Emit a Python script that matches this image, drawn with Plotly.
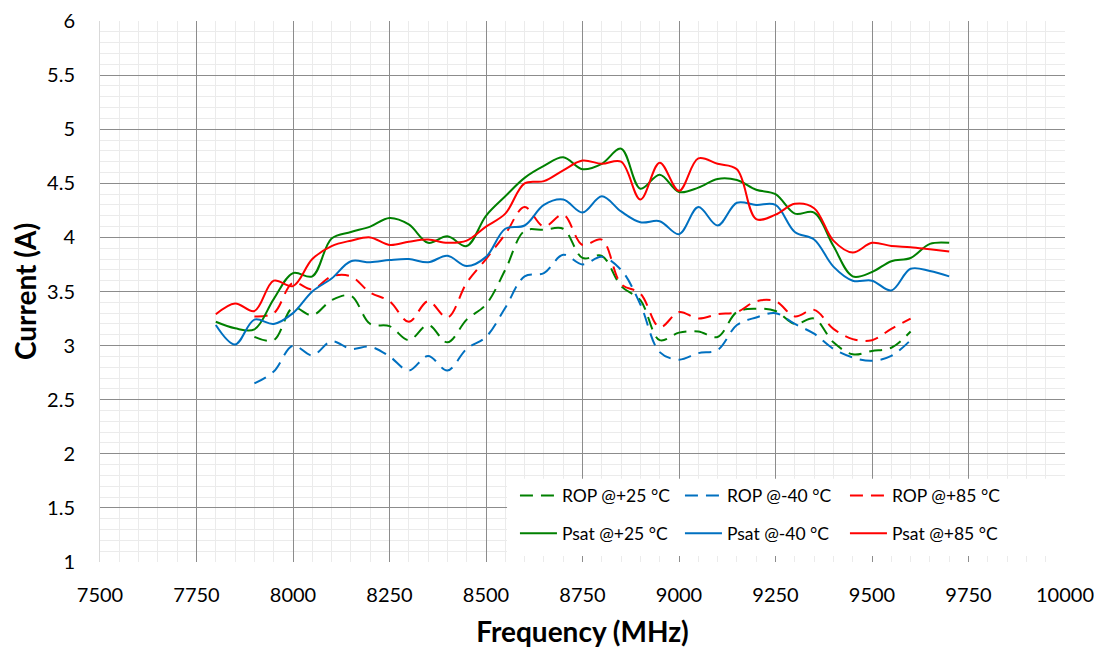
import plotly.graph_objects as go

# Frequencies (MHz)
freq_psat = [7800, 7850, 7900, 7950, 8000, 8050, 8100, 8150, 8200, 8250, 8300, 8350, 8400, 8450,
             8500, 8550, 8600, 8650, 8700, 8750, 8800, 8850, 8900, 8950, 9000, 9050, 9100, 9150,
             9200, 9250, 9300, 9350, 9400, 9450, 9500, 9550, 9600, 9650, 9700]
freq_rop = [7900, 7950, 8000, 8050, 8100, 8150, 8200, 8250, 8300, 8350, 8400, 8450, 8500, 8550,
            8600, 8650, 8700, 8750, 8800, 8850, 8900, 8950, 9000, 9050, 9100, 9150, 9200, 9250,
            9300, 9350, 9400, 9450, 9500, 9550, 9600]

psat_p25 = [3.22, 3.16, 3.15, 3.43, 3.67, 3.64, 3.99, 4.05, 4.10, 4.18, 4.12, 3.95, 4.01, 3.92,
            4.20, 4.38, 4.55, 4.66, 4.74, 4.63, 4.68, 4.82, 4.45, 4.58, 4.42, 4.46, 4.54, 4.53,
            4.44, 4.40, 4.22, 4.23, 3.92, 3.64, 3.68, 3.78, 3.81, 3.94, 3.95]
psat_m40 = [3.19, 3.01, 3.24, 3.20, 3.30, 3.50, 3.62, 3.78, 3.77, 3.79, 3.80, 3.77, 3.83, 3.735,
            3.82, 4.08, 4.11, 4.30, 4.35, 4.23, 4.38, 4.24, 4.14, 4.15, 4.03, 4.28, 4.11, 4.32,
            4.30, 4.30, 4.05, 3.98, 3.73, 3.60, 3.60, 3.51, 3.71, 3.69, 3.64]
psat_p85 = [3.29, 3.39, 3.32, 3.60, 3.55, 3.80, 3.92, 3.97, 4.00, 3.93, 3.96, 3.98, 3.95, 3.97,
            4.10, 4.22, 4.50, 4.52, 4.62, 4.71, 4.68, 4.70, 4.35, 4.69, 4.43, 4.73, 4.68, 4.63,
            4.17, 4.21, 4.31, 4.27, 3.97, 3.86, 3.95, 3.92, 3.91, 3.89, 3.87]

rop_p25 = [3.08, 3.05, 3.35, 3.28, 3.42, 3.46, 3.20, 3.18, 3.05, 3.19, 3.03, 3.24, 3.38, 3.70,
           4.06, 4.07, 4.08, 3.81, 3.83, 3.55, 3.42, 3.05, 3.12, 3.13, 3.08, 3.31, 3.34, 3.32,
           3.20, 3.25, 3.03, 2.92, 2.95, 2.98, 3.13]
rop_m40 = [2.65, 2.76, 3.00, 2.91, 3.04, 2.97, 2.99, 2.90, 2.77, 2.905, 2.77, 2.97, 3.08, 3.35,
           3.64, 3.67, 3.84, 3.75, 3.82, 3.70, 3.38, 2.94, 2.87, 2.93, 2.96, 3.19, 3.26, 3.30,
           3.20, 3.11, 2.97, 2.89, 2.86, 2.905, 3.05]
rop_p85 = [3.27, 3.30, 3.58, 3.52, 3.64, 3.64, 3.49, 3.41, 3.22, 3.41, 3.26, 3.58, 3.80, 4.03,
           4.28, 4.10, 4.21, 3.93, 3.98, 3.57, 3.48, 3.17, 3.31, 3.25, 3.29, 3.31, 3.41, 3.41,
           3.27, 3.33, 3.155, 3.06, 3.05, 3.155, 3.25]

x_ticks = [7500, 7750, 8000, 8250, 8500, 8750, 9000, 9250, 9500, 9750, 10000]
y_ticks = [1, 1.5, 2, 2.5, 3, 3.5, 4, 4.5, 5, 5.5, 6]
y_tick_text = ["1", "1.5", "2", "2.5", "3", "3.5", "4", "4.5", "5", "5.5", "6"]

GREEN = "#008000"
BLUE = "#0070C0"
RED = "#FF0000"
DASH = "13px,8px"

series = [
    ("ROP @+25 °C", freq_rop, rop_p25, GREEN, DASH, "legend"),
    ("ROP @-40 °C", freq_rop, rop_m40, BLUE, DASH, "legend"),
    ("ROP @+85 °C", freq_rop, rop_p85, RED, DASH, "legend"),
    ("Psat @+25 °C", freq_psat, psat_p25, GREEN, "solid", "legend2"),
    ("Psat @-40 °C", freq_psat, psat_m40, BLUE, "solid", "legend2"),
    ("Psat @+85 °C", freq_psat, psat_p85, RED, "solid", "legend2"),
]

fig = go.Figure()
for name, xs, ys, color, dash, leg in series:
    fig.add_trace(go.Scatter(
        x=xs, y=ys, name=name, mode="lines", legend=leg,
        line=dict(color=color, width=2, dash=dash, shape="spline", smoothing=1.0),
    ))

FONT = "Lato, 'Open Sans', sans-serif"
LEG = dict(orientation="h", x=0.430, xanchor="left", yanchor="middle",
           bgcolor="rgba(255,255,255,0)", borderwidth=0, entrywidth=113, itemwidth=37,
           font=dict(family=FONT, size=17.5, color="black"))

fig.add_shape(type="rect", xref="paper", yref="paper",
              x0=0.4218, x1=1.0, y0=0.011, y1=0.1538,
              fillcolor="white", line=dict(width=0), layer="above")

fig.update_layout(
    width=1102, height=650,
    margin=dict(l=92, r=45, t=13, b=96, autoexpand=False),
    paper_bgcolor="white", plot_bgcolor="white",
    font=dict(family=FONT, size=20, color="black"),
    legend=dict(LEG, y=0.1227),
    legend2=dict(LEG, y=0.0531),
    xaxis=dict(
        range=[7500, 10000], tickmode="array", tickvals=x_ticks,
        ticktext=[str(v) for v in x_ticks],
        showgrid=True, gridcolor="#8c8c8c", gridwidth=1,
        minor=dict(dtick=50, showgrid=True, gridcolor="#ebebeb", gridwidth=1),
        zeroline=False, showline=False, ticks="", automargin=False,
        ticklabelstandoff=19, ticklabeloverflow="allow",
        title=dict(text="<b>Frequency (MHz)</b>", font=dict(family=FONT, size=28), standoff=17),
        tickfont=dict(size=20),
    ),
    yaxis=dict(
        range=[1, 6], tickmode="array", tickvals=y_ticks, ticktext=y_tick_text,
        showgrid=True, gridcolor="#8c8c8c", gridwidth=1,
        minor=dict(dtick=0.1, showgrid=True, gridcolor="#ebebeb", gridwidth=1),
        zeroline=False, showline=True, linecolor="#d9d9d9", ticks="", automargin=False,
        ticklabelstandoff=20, ticklabeloverflow="allow",
        title=dict(text="<b>Current (A)</b>", font=dict(family=FONT, size=28), standoff=10),
        tickfont=dict(size=20),
    ),
)

fig.write_html("out.html")
